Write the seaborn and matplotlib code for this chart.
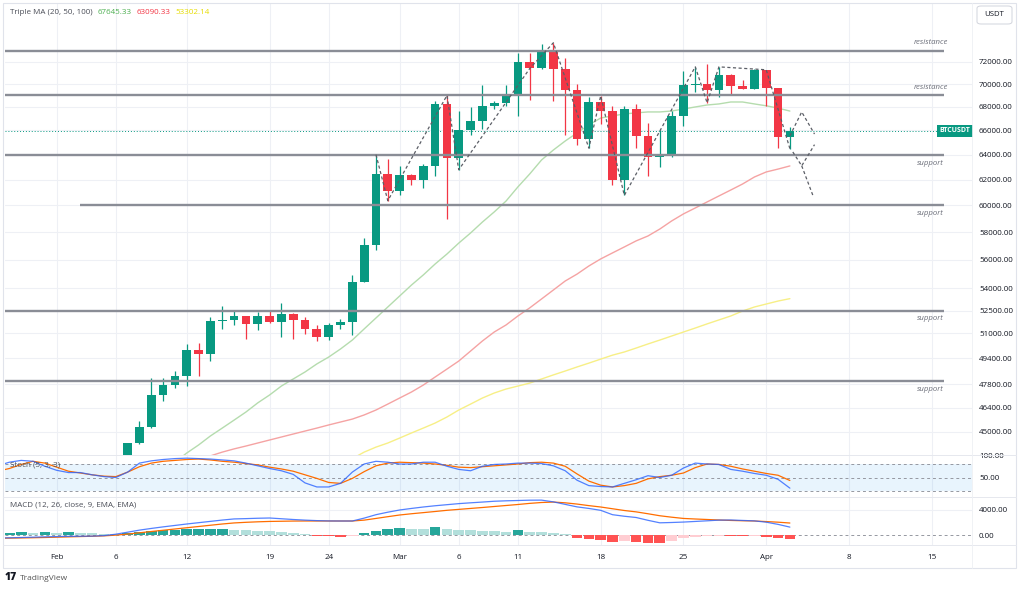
import numpy as np
import pandas as pd
import seaborn as sns
import matplotlib.pyplot as plt
import matplotlib.dates as mdates
import matplotlib.transforms as mtransforms
from matplotlib.patches import Rectangle, FancyBboxPatch
from matplotlib.lines import Line2D

sns.set_style("white")
plt.rcParams['font.family'] = ['Open Sans', 'DejaVu Sans']

## Data: BTCUSDT daily candles, 27 Jan - 3 Apr 2024
dates = pd.date_range('2024-01-27', '2024-04-03', freq='D')
opens = [41823, 42120, 42031, 43302, 42941,
         42580, 43082, 43200, 43011, 42582, 42708, 43098, 44349, 45288, 47132,
         47751, 48299, 49917, 49699, 51795, 51880, 52124, 51642, 52137, 51774,
         52258, 51849, 51288, 50744, 51568, 51728, 54476, 57037, 62432,
         61130, 62387, 61987, 63113, 68245, 63724, 66074, 66823, 68124, 68313,
         68955, 72000, 71463, 73072, 71388, 69499, 65300, 68393, 67609, 61937,
         67840, 65501, 63796, 64037, 67211, 69880, 69988, 69469, 70780, 69850, 69582,
         71280, 69649, 65463]
highs = [42200, 42842, 43305, 43600, 43500,
         43243, 43488, 43380, 43119, 43494, 43399, 44396, 45614, 48200, 48170,
         48592, 50334, 50368, 52043, 52816, 52572, 52163, 52425, 52488, 52985,
         52366, 52065, 51548, 51698, 51958, 54910, 57588, 64000, 63676,
         63114, 62433, 63231, 68499, 69000, 67637, 67985, 69908, 68541, 69887,
         72800, 72850, 73650, 73777, 72357, 70044, 68904, 68957, 68124, 68100,
         68240, 66650, 65999, 67622, 71150, 71561, 71769, 71552, 70916, 70333, 71366,
         71288, 69674, 66300]
lows = [41394, 41620, 41804, 42683, 42276,
        41879, 42546, 42880, 42222, 42536, 42574, 42788, 44331, 45242, 46800,
        47558, 47710, 48300, 49225, 51314, 51566, 50625, 51215, 51677, 50760,
        50625, 50934, 50521, 50585, 51279, 50901, 54450, 56691, 60364,
        60777, 61561, 61321, 62300, 59005, 62787, 65600, 66100, 67861, 68094,
        67194, 68620, 71334, 68555, 65630, 64780, 64533, 66575, 61555, 60775,
        64529, 62260, 63000, 63825, 66385, 69280, 68359, 68903, 69009, 69540, 69562,
        68062, 64550, 64493]
closes = [42120, 42031, 43302, 42941, 42580,
          43082, 43200, 43011, 42582, 42708, 43098, 44349, 45288, 47132, 47751,
          48299, 49917, 49699, 51795, 51880, 52124, 51642, 52137, 51774, 52258,
          51849, 51288, 50744, 51568, 51728, 54476, 57037, 62432, 61130,
          62387, 61987, 63113, 68245, 63724, 66074, 66823, 68124, 68313, 68955,
          72000, 71463, 73072, 71388, 69499, 65300, 68393, 67609, 61937, 67840,
          65501, 63796, 64037, 67211, 69880, 69988, 69469, 70780, 69850, 69582, 71280,
          69649, 65463, 65963]

# moving averages (each starts where it enters the pane)
ma20_start = '2024-02-11'
ma20 = [43300, 43810, 44260, 44770, 45220, 45680, 46150, 46690, 47160, 47700, 48130,
        48560, 49060, 49490, 50000, 50570, 51290, 52010, 52740, 53480, 54230,
        54930, 55700, 56410, 57200, 57940, 58750, 59510, 60340, 61430, 62450,
        63570, 64380, 65120, 65790, 66460, 67050, 67230, 67400, 67490, 67570,
        67570, 67650, 67820, 68000, 68170, 68260, 68430, 68430, 68260, 68100,
        67900, 67645.33]
ma50_start = '2024-02-14'
ma50 = [43650, 43860, 44040, 44200, 44370, 44540, 44710, 44880, 45050, 45220, 45400,
        45570, 45740, 45980, 46270, 46620, 46980, 47340, 47760, 48250, 48740,
        49240, 49870, 50510, 51090, 51550, 52140, 52680, 53280, 53890, 54510,
        54990, 55560, 56060, 56490, 56920, 57360, 57720, 58230, 58830, 59360,
        59810, 60270, 60730, 61190, 61660, 62210, 62610, 62840, 63090.33]
ma100_start = '2024-02-26'
ma100 = [43500, 43860, 44140, 44370, 44650, 44940, 45220, 45510, 45860, 46270, 46620,
         46980, 47280, 47520, 47700, 47880, 48130, 48380, 48620, 48870, 49110,
         49360, 49610, 49810, 50060, 50320, 50570, 50830, 51090, 51350, 51620,
         51880, 52140, 52470, 52740, 52940, 53140, 53302.14]

# support / resistance levels drawn on the chart
sr_levels = [73000, 69000, 64000, 60000, 52500, 48000]
sr_labels = ['resistance', 'resistance', 'support', 'support', 'support', 'support']
sr_start = ['2024-01-27', '2024-01-27', '2024-01-27', '2024-02-03', '2024-01-27', '2024-01-27']
sr_end = '2024-04-16'

# dashed swing path and projections
zig_dates = ['2024-02-28', '2024-02-29', '2024-03-05', '2024-03-06', '2024-03-12',
             '2024-03-14', '2024-03-17', '2024-03-18', '2024-03-20', '2024-03-26',
             '2024-03-27', '2024-03-28', '2024-04-01', '2024-04-03']
zig_prices = [64000, 60364, 69000, 62787, 71400, 73777, 64533, 68957, 60775,
              71561, 68359, 71552, 71288, 64493]
proj_up_dates = ['2024-04-03', '2024-04-04', '2024-04-05 02:00']
proj_up_prices = [65550, 67570, 65700]
proj_dn_dates = ['2024-04-03 06:00', '2024-04-04', '2024-04-05 02:00']
proj_dn_prices = [64220, 63100, 64820]
proj_drop_dates = ['2024-04-04', '2024-04-05']
proj_drop_prices = [63100, 60640]

# Stochastic (5, 3, 3)
stoch_k = [76, 84, 88, 86, 75,
           66, 61, 61, 56, 52, 50, 62, 82, 87, 90,
           92, 93, 92, 91, 89, 87, 82, 76, 70, 65,
           57, 38, 29, 29, 37, 62, 80, 86, 84, 80,
           80, 84, 84, 75, 68, 65, 75, 79, 80, 82,
           82, 81, 76, 65, 44, 32, 30, 29, 37, 45,
           54, 50, 55, 71, 82, 80, 79, 68, 64, 59,
           55, 46, 26.37]
stoch_d = [64, 70, 79, 86, 82,
           73, 64, 60, 56, 53, 52, 62, 74, 82, 86,
           88, 90, 91, 89, 86, 84, 81, 78, 73, 69,
           64, 56, 48, 39, 37, 48, 63, 76, 82, 84,
           83, 82, 80, 77, 73, 72, 74, 76, 78, 80,
           83, 84, 82, 75, 58, 42, 33, 29, 32, 37,
           47, 52, 55, 60, 72, 80, 79, 75, 69, 64,
           59, 55, 43.40]

# MACD (12, 26, close, 9)
macd = [-480, -450, -400, -350, -300,
        -250, -220, -200, -180, -100, 130, 450, 780, 1050, 1300,
        1530, 1760, 1970, 2180, 2390, 2570, 2620, 2680, 2720, 2600,
        2480, 2380, 2300, 2250, 2240, 2240, 2700, 3250, 3650, 4000,
        4250, 4480, 4680, 4850, 5020, 5150, 5270, 5400, 5470, 5520,
        5570, 5580, 5300, 4900, 4500, 4250, 3950, 3250, 3000, 2800,
        2350, 1950, 2000, 2070, 2170, 2270, 2380, 2400, 2330, 2260,
        2050, 1700, 1263.41]
signal = [-520, -500, -470, -440, -400,
          -350, -300, -250, -200, -140, -20, 150, 350, 560, 760,
          960, 1160, 1360, 1560, 1760, 1930, 2030, 2110, 2170, 2200,
          2230, 2240, 2240, 2240, 2240, 2240, 2380, 2650, 2930, 3200,
          3400, 3580, 3760, 3950, 4100, 4250, 4400, 4560, 4720, 4880,
          5060, 5200, 5270, 5150, 4950, 4700, 4480, 4200, 3920, 3700,
          3400, 3080, 2850, 2650, 2560, 2480, 2400, 2330, 2280, 2240,
          2150, 2050, 1916.45]
hist = [350, 380, 420, 400, 410,
        380, 530, 370, 250, 200, 160, 330, 420, 640, 800,
        880, 920, 950, 970, 1000, 820, 790, 700, 590, 480,
        370, 160, -90, -150, -380, -150, 270, 700, 900, 1070,
        920, 900, 1230, 900, 820, 780, 720, 690, 530, 800,
        530, 430, 270, 100, -530, -700, -750, -1170, -900, -1170,
        -1230, -1250, -900, -530, -270, -150, -100, -200, -220, -150,
        -250, -500, -653.04]

price_ticks = [45000, 46400, 47800, 49400, 51000, 52500, 54000, 56000, 58000,
               60000, 62000, 64000, 66000, 68000, 70000, 72000]
tick_dates = ['2024-02-01', '2024-02-06', '2024-02-12', '2024-02-19', '2024-02-24',
              '2024-03-01', '2024-03-06', '2024-03-11', '2024-03-18', '2024-03-25',
              '2024-04-01', '2024-04-08', '2024-04-15']
tick_labels = ['Feb', '6', '12', '19', '24', 'Mar', '6', '11', '18', '25', 'Apr', '8', '15']

## Colours
UP, DOWN = '#089981', '#f23645'
GRID = '#eef0f5'
TXT = '#131722'
GRAY = '#6a6d78'
BLUE, ORANGE = '#2962ff', '#ff6d00'


def num(d):
    return mdates.date2num(pd.to_datetime(d))


x = mdates.date2num(dates)
o, h, l, c = map(np.array, (opens, highs, lows, closes))
x0 = num('2024-02-01') - 4.37
x1 = num('2024-02-01') + 77.4
xt = [num(d) for d in tick_dates]

W, H = 1024, 591
fig = plt.figure(figsize=(W / 100, H / 100), dpi=100)
fig.patch.set_facecolor('white')


def fx(px):
    return px / W


def fy(py):
    return 1 - py / H


left, right = 5, 972
ax_p = fig.add_axes([fx(left), fy(455), (right - left) / W, 452 / H])
ax_s = fig.add_axes([fx(left), fy(497), (right - left) / W, 42 / H])
ax_m = fig.add_axes([fx(left), fy(545), (right - left) / W, 48 / H])

for ax in (ax_p, ax_s, ax_m):
    for sp in ax.spines.values():
        sp.set_visible(False)
    ax.set_xlim(x0, x1)
    ax.set_xticks(xt)
    ax.grid(True, color=GRID, lw=0.8, zorder=0)
    ax.set_axisbelow(True)
    ax.yaxis.tick_right()
    ax.tick_params(axis='y', length=0, pad=5, labelsize=5.8, labelcolor=TXT)
    ax.tick_params(axis='x', length=0, labelbottom=False)
    ax.set_xlabel('')
    ax.set_ylabel('')

## Price pane
ax_p.set_yscale('log')
ax_p.set_ylim(43700, 77600)
ax_p.yaxis.set_major_locator(plt.FixedLocator(price_ticks))
ax_p.yaxis.set_minor_locator(plt.NullLocator())
ax_p.set_yticklabels(['{:.2f}'.format(t) for t in price_ticks])

# moving averages
for vals, start, col in [(ma100, ma100_start, '#f7ef86'),
                         (ma50, ma50_start, '#f5a3a3'),
                         (ma20, ma20_start, '#b5dcae')]:
    mx = mdates.date2num(pd.date_range(start, periods=len(vals), freq='D'))
    sns.lineplot(x=mx, y=vals, ax=ax_p, color=col, lw=1.0, estimator=None, zorder=2)

# candles
col = np.where(c >= o, UP, DOWN)
ax_p.vlines(x, l, h, colors=col, lw=0.9, zorder=3)
ax_p.bar(x, np.maximum(np.abs(c - o), 60), bottom=np.minimum(o, c), width=0.74,
         color=col, linewidth=0, zorder=4)

# last price line and tag
ax_p.axhline(closes[-1], color=UP, lw=0.7, ls=(0, (1, 2)), zorder=2)
tr = mtransforms.blended_transform_factory(ax_p.transAxes, ax_p.transData)
ax_p.text(0.9985, closes[-1], 'BTCUSDT', transform=tr, ha='right', va='center',
          fontsize=5, color='white', fontweight='bold', zorder=10,
          bbox=dict(boxstyle='square,pad=0.35', fc=UP, ec='none'))

# support / resistance
xe = num(sr_end)
for lvl, lab, st in zip(sr_levels, sr_labels, sr_start):
    ax_p.hlines(lvl, max(num(st), x0), xe, color='#8a8d96', lw=1.7, zorder=5)
    off = 6 if lab == 'resistance' else -6
    ax_p.annotate(lab, xy=(xe - 1.1, lvl), xytext=(0, off), textcoords='offset points',
                  ha='center', va='center', fontsize=5.6, style='italic', color=GRAY,
                  zorder=6)

# dashed swing path
dash = dict(color='#5b5e66', lw=0.9, ls=(0, (2.5, 2)), zorder=6)
for dd, pp in [(zig_dates, zig_prices), (proj_up_dates, proj_up_prices),
               (proj_dn_dates, proj_dn_prices), (proj_drop_dates, proj_drop_prices)]:
    ax_p.plot([num(d) for d in dd], pp, **dash)

## Stochastic pane
ax_s.set_ylim(6.7, 100)
ax_s.set_yticks([100, 50])
ax_s.set_yticklabels(['100.00', '50.00'])
ax_s.grid(False, axis='y')
ax_s.axhspan(20, 80, color='#2196f3', alpha=0.1, lw=0, zorder=1)
for lvl in (80, 50, 20):
    ax_s.axhline(lvl, color='#9598a1', lw=0.7, ls=(0, (3, 3)), zorder=2)
sns.lineplot(x=x, y=stoch_d, ax=ax_s, color=ORANGE, lw=0.9, estimator=None, zorder=3)
sns.lineplot(x=x, y=stoch_k, ax=ax_s, color=BLUE, lw=0.9, alpha=0.8, estimator=None, zorder=3)

## MACD pane
ax_m.set_ylim(-1600, 6080)
ax_m.set_yticks([4000, 0])
ax_m.set_yticklabels(['4000.00', '0.00'])
ax_m.grid(False, axis='y')
ax_m.axhline(4000, color=GRID, lw=0.8, zorder=0)
ax_m.axhline(0, color='#9598a1', lw=0.7, ls=(0, (3, 3)), zorder=1)
hcol = []
for i, v in enumerate(hist):
    prev = hist[i - 1] if i else v
    if v >= 0:
        hcol.append('#26a69a' if v > prev else '#b2dfdb')
    else:
        hcol.append('#ff5252' if v < prev else '#ffcdd2')
ax_m.bar(x, hist, width=0.9, color=hcol, linewidth=0, zorder=2)
sns.lineplot(x=x, y=signal, ax=ax_m, color=ORANGE, lw=0.9, estimator=None, zorder=3)
sns.lineplot(x=x, y=macd, ax=ax_m, color=BLUE, lw=0.9, alpha=0.8, estimator=None, zorder=3)

ax_m.set_xticklabels(tick_labels)
ax_m.tick_params(axis='x', labelbottom=True, pad=6.5, labelsize=5.8, labelcolor=TXT)

for ax in (ax_p, ax_s, ax_m):
    leg = ax.get_legend()
    if leg:
        leg.remove()


## Legend rows
def text_row(x, y, parts, size=5.8):
    t = fig.text(x, y, parts[0][0], color=parts[0][1], fontsize=size,
                 va='center', ha='left', zorder=20)
    for s, cc in parts[1:]:
        t = ax_p.annotate(s, xy=(1, 0.5), xycoords=t, xytext=(3.5, 0),
                          textcoords='offset points', color=cc, fontsize=size,
                          va='center', ha='left', annotation_clip=False, zorder=20)


text_row(fx(10), fy(13), [('Triple MA (20, 50, 100)', '#4a4d57'),
                          ('67645.33', '#4caf50'), ('63090.33', '#f23645'),
                          ('53302.14', '#e6dc00')])
text_row(fx(10), fy(465), [('Stoch (5, 3, 3)', '#4a4d57'),
                           ('26.37', BLUE), ('43.40', ORANGE)])
text_row(fx(10), fy(505), [('MACD (12, 26, close, 9, EMA, EMA)', '#4a4d57'),
                           ('-653.04', '#ff5252'), ('1263.41', BLUE), ('1916.45', ORANGE)])

## Frame, pane separators, currency box, footer
fig.add_artist(Rectangle((fx(3), fy(568)), (1016 - 3) / W, (568 - 3) / H,
                         transform=fig.transFigure, fill=False, ec='#e0e3eb', lw=0.8))
for py in (455, 497, 545):
    fig.add_artist(Line2D([fx(3), fx(1016)], [fy(py), fy(py)], color='#e6e8ee', lw=0.7))
fig.add_artist(Line2D([fx(972), fx(972)], [fy(3), fy(568)], color='#eef0f4', lw=0.6))
fig.add_artist(FancyBboxPatch((fx(977), fy(24)), 35 / W, 18 / H,
                              boxstyle='round,pad=0,rounding_size=0.004',
                              transform=fig.transFigure, fill=False, ec='#d1d4dc', lw=0.7))
fig.text(fx(994.5), fy(15), 'USDT', ha='center', va='center', fontsize=5.6, color=TXT)
fig.text(fx(5), fy(578), '17', ha='left', va='center', fontsize=7.5,
         fontweight='heavy', color=TXT)
fig.text(fx(20), fy(578), 'TradingView', ha='left', va='center', fontsize=6, color='#555')

fig.savefig('out.png', dpi=100, facecolor='white')
